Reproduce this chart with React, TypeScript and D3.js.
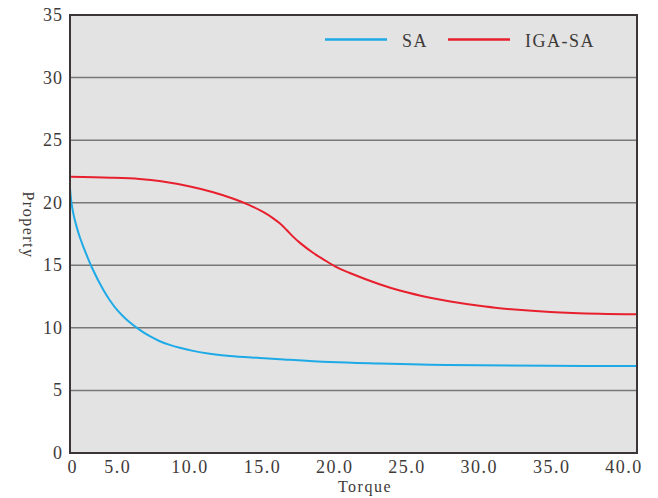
import React from "react";
import * as d3 from "d3";

// ---- Data ----
const xTickValues = [5, 10, 15, 20, 25, 30, 35, 40];
const xTickLabels = ["5.0", "10.0", "15.0", "20.0", "25.0", "30.0", "35.0", "40.0"];
const yTickValues = [0, 5, 10, 15, 20, 25, 30, 35];
const seriesNames = ["SA", "IGA-SA"];
const seriesColors = ["#1eaae6", "#e8202e"];

const saTorque = [1.7, 1.8, 1.93, 2.15, 2.38, 2.61, 3.23, 4.0, 4.45, 5.0, 5.6, 6.52, 7.22, 7.91, 8.6, 9.29, 10.21, 11.36, 12.75, 14.82, 16.2, 19.66, 23.11, 26.57, 30.03, 34.86, 40.88];
const saValue = [21.15, 20.0, 19.13, 18.11, 17.24, 16.52, 14.78, 13.04, 12.21, 11.37, 10.67, 9.84, 9.33, 8.93, 8.64, 8.41, 8.16, 7.94, 7.76, 7.6, 7.5, 7.27, 7.15, 7.06, 7.01, 6.97, 6.95];

const igaTorque = [1.7, 4.5, 6.5, 8.0, 10.0, 11.6, 13.0, 14.1, 15.05, 15.7, 16.2, 16.66, 17.12, 17.58, 18.5, 19.19, 20.12, 21.0, 23.1, 24.5, 26.6, 28.0, 30.0, 31.4, 34.9, 38.3, 40.88];
const igaValue = [22.07, 22.0, 21.9, 21.72, 21.3, 20.84, 20.32, 19.81, 19.26, 18.79, 18.35, 17.84, 17.29, 16.81, 16.0, 15.5, 14.85, 14.4, 13.48, 12.98, 12.4, 12.1, 11.76, 11.57, 11.27, 11.12, 11.08];

const xDomain = [1.7, 40.9];
const yDomain = [0, 35];

export default function App() {
  const W = 658, H = 498;
  const left = 70, right = 637, top = 15, bottom = 453;
  const x = d3.scaleLinear().domain(xDomain).range([left, right]);
  const y = d3.scaleLinear().domain(yDomain).range([bottom, top]);
  const line = d3
    .line<[number, number]>()
    .x((d) => x(d[0]))
    .y((d) => y(d[1]))
    .curve(d3.curveCatmullRom.alpha(0.5));

  const sa: [number, number][] = saTorque.map((t, i) => [t, saValue[i]]);
  const iga: [number, number][] = igaTorque.map((t, i) => [t, igaValue[i]]);
  const series = [sa, iga];

  const textColor = "#3e3a39";
  const font = "'Liberation Serif', 'Times New Roman', serif";

  return (
    <svg width={W} height={H} style={{ position: "absolute", left: 0, top: 0, background: "#fff" }}>
      <rect x={left} y={top} width={right - left} height={bottom - top} fill="#e3e3e3" />
      {yTickValues.slice(1, -1).map((v) => (
        <line key={v} x1={left} x2={right} y1={y(v)} y2={y(v)} stroke="#7a7777" strokeWidth={1.5} />
      ))}
      {series.map((s, i) => (
        <path key={i} d={line(s) || ""} fill="none" stroke={seriesColors[i]} strokeWidth={2} />
      ))}
      <rect x={left} y={top} width={right - left} height={bottom - top} fill="none" stroke="#3b3535" strokeWidth={2} />
      {/* y tick labels */}
      {yTickValues.map((v) => (
        <text key={v} x={63} y={y(v) + 6} textAnchor="end" fontFamily={font} fontSize={18} fill={textColor} letterSpacing={1}>
          {v}
        </text>
      ))}
      {/* x tick labels */}
      <text x={left + 2} y={473} textAnchor="middle" fontFamily={font} fontSize={18} fill={textColor}>0</text>
      {xTickValues.map((v, i) => (
        <text key={v} x={x(v)} y={473} textAnchor="middle" fontFamily={font} fontSize={18} fill={textColor} letterSpacing={1.5}>
          {xTickLabels[i]}
        </text>
      ))}
      <text x={365} y={492} textAnchor="middle" fontFamily={font} fontSize={16} fill={textColor} letterSpacing={1.5}>
        Torque
      </text>
      <text
        transform={`translate(23,225) rotate(90)`}
        textAnchor="middle"
        fontFamily={font}
        fontSize={16}
        fill={textColor}
        letterSpacing={1.5}
      >
        Property
      </text>
      {/* legend */}
      {seriesNames.map((n, i) => {
        const lx = [325, 448][i];
        const tx = [402, 525][i];
        return (
          <g key={n}>
            <line x1={lx} x2={lx + 62} y1={39.5} y2={39.5} stroke={seriesColors[i]} strokeWidth={2.5} />
            <text x={tx} y={47} fontFamily={font} fontSize={18} fill={textColor} letterSpacing={1.5}>
              {n}
            </text>
          </g>
        );
      })}
    </svg>
  );
}
